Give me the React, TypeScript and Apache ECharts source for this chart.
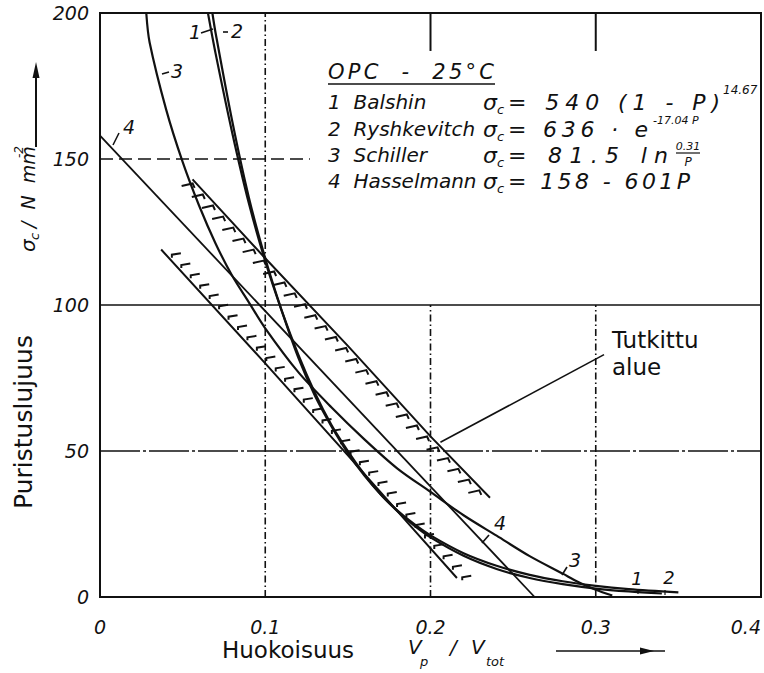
import React, { useEffect, useRef } from "react";
import * as echarts from "echarts";

// ---- data ----
const xTickLabels = ["0", "0.1", "0.2", "0.3", "0.4"];
const yTickLabels = ["0", "50", "100", "150", "200"];

// 1 Balshin
const balshin: number[][] = [
  [0.065, 201], [0.07, 186], [0.08, 159], [0.09, 135], [0.1, 115], [0.11, 98],
  [0.12, 83], [0.13, 70], [0.14, 59], [0.15, 50], [0.16, 42], [0.17, 35],
  [0.18, 29.4], [0.19, 24.5], [0.2, 20.4], [0.22, 14.1], [0.24, 9.6], [0.26, 6.5],
  [0.28, 4.4], [0.3, 2.9], [0.32, 1.9], [0.34, 1.2],
];
// 2 Ryshkevitch
const ryshkevitch: number[][] = [
  [0.068, 200], [0.07, 193], [0.08, 163], [0.09, 137], [0.1, 116], [0.11, 98],
  [0.12, 82], [0.13, 69], [0.14, 58.5], [0.15, 49.3], [0.16, 41.6], [0.17, 35.1],
  [0.18, 29.6], [0.19, 25], [0.2, 21.1], [0.22, 15], [0.24, 10.7], [0.26, 7.6],
  [0.28, 5.4], [0.3, 3.8], [0.32, 2.7], [0.35, 1.6],
];
// 3 Schiller
const schiller: number[][] = [
  [0.028, 200], [0.03, 190], [0.04, 167], [0.05, 149], [0.06, 134], [0.07, 121],
  [0.08, 110], [0.09, 101], [0.1, 92], [0.12, 77], [0.14, 65], [0.16, 54],
  [0.18, 44], [0.2, 36], [0.22, 28], [0.24, 21], [0.26, 14], [0.28, 8],
  [0.29, 5], [0.3, 2.5], [0.31, 0.5],
];
// 4 Hasselmann
const hasselmann: number[][] = [[0, 158], [0.263, 0]];
// Tutkittu alue (studied area) boundaries
const bandUpper: number[][] = [[0.056, 143], [0.1, 116], [0.15, 86], [0.2, 55], [0.236, 34]];
const bandLower: number[][] = [[0.037, 119], [0.1, 80], [0.15, 48.5], [0.19, 23], [0.216, 6.5]];
const leader: number[][] = [[0.206, 53], [0.305, 83]];

const INK = "#111";
const FONT = "DejaVu Sans";

let measureCtx: CanvasRenderingContext2D | null = null;
function measure(text: string, font: string): number {
  if (!measureCtx) measureCtx = document.createElement("canvas").getContext("2d");
  if (!measureCtx) return text.length * 10;
  measureCtx.font = font;
  return measureCtx.measureText(text).width;
}

function bandRender(pts: number[][], side: number, spacing: number) {
  return (_params: any, api: any) => {
    const px = pts.map((p) => api.coord(p));
    const children: any[] = [
      { type: "polyline", shape: { points: px }, style: { stroke: INK, lineWidth: 2, fill: null } },
    ];
    let acc = spacing * 0.5;
    for (let i = 0; i < px.length - 1; i++) {
      const [x0, y0] = px[i];
      const [x1, y1] = px[i + 1];
      const dx = x1 - x0, dy = y1 - y0;
      const L = Math.hypot(dx, dy);
      while (acc <= L) {
        const t = acc / L;
        const x = x0 + dx * t, y = y0 + dy * t;
        let pts2: number[][];
        if (side < 0) {
          pts2 = [[x - 16, y + 1], [x - 5, y - 1.5], [x - 3, y + 3]];
        } else {
          pts2 = [[x + 6, y + 3], [x + 6, y], [x + 15, y - 1.5]];
        }
        children.push({ type: "polyline", shape: { points: pts2 }, style: { stroke: INK, lineWidth: 2, fill: null } });
        acc += spacing;
      }
      acc -= L;
    }
    return { type: "group", children };
  };
}

function lineSeries(data: number[][], width: number, type: any = "solid", smooth: any = false) {
  return {
    type: "line",
    data,
    showSymbol: false,
    symbol: "none",
    smooth,
    silent: true,
    lineStyle: { color: INK, width, type },
    z: 3,
  };
}

function fontOf(size: number, italic = true) {
  return `${italic ? "italic " : ""}${size}px '${FONT}'`;
}

function txt(text: string, x: number, y: number, size: number, opts: any = {}) {
  return {
    type: "text",
    x,
    y,
    silent: true,
    style: {
      text,
      fill: INK,
      font: fontOf(size, opts.italic !== false),
      textAlign: opts.align || "left",
      textVerticalAlign: "middle",
    },
  };
}

// text spread with letter spacing so that it spans x0..x1
function spaced(text: string, x0: number, x1: number, y: number, size: number) {
  const font = fontOf(size);
  const chars = Array.from(text);
  const widths = chars.map((c) => measure(c, font));
  const natural = widths.reduce((a, b) => a + b, 0);
  const extra = chars.length > 1 ? Math.max(0, (x1 - x0 - natural) / (chars.length - 1)) : 0;
  const out: any[] = [];
  let x = x0;
  chars.forEach((c, i) => {
    if (c !== " ") out.push(txt(c, x, y, size));
    x += widths[i] + extra;
  });
  return out;
}

function seg(x1: number, y1: number, x2: number, y2: number, w = 1.6) {
  return { type: "line", silent: true, shape: { x1, y1, x2, y2 }, style: { stroke: INK, lineWidth: w } };
}

export default function App() {
  const ref = useRef<HTMLDivElement>(null);
  useEffect(() => {
    if (!ref.current) return;
    const chart = echarts.init(ref.current, undefined, { renderer: "svg" });
    const dashDot = [7, 3, 1.5, 3];
    const graphic: any[] = [
      // legend block
      ...spaced("OPC  -  25°C", 328, 494, 72, 21),
      seg(328, 84, 495, 84, 1.6),
      txt("1  Balshin", 328, 102, 20),
      txt("σ", 483, 102, 22),
      txt("c", 497, 109, 13),
      ...spaced("= 540 (1 - P)", 508, 720, 102, 22),
      txt("14.67", 723, 90, 12),
      txt("2  Ryshkevitch", 328, 129, 20),
      txt("σ", 483, 129, 22),
      txt("c", 497, 136, 13),
      ...spaced("= 636 · e", 508, 648, 129, 22),
      txt("-17.04 P", 653, 120, 11),
      txt("3  Schiller", 328, 155, 20),
      txt("σ", 483, 155, 22),
      txt("c", 497, 162, 13),
      ...spaced("= 81.5 ln", 508, 668, 155, 22),
      txt("0.31", 688, 146, 11, { align: "center" }),
      seg(676, 153, 700, 153, 1.2),
      txt("P", 688, 162, 12, { align: "center" }),
      txt("4  Hasselmann", 328, 181, 20),
      txt("σ", 483, 181, 22),
      txt("c", 497, 188, 13),
      ...spaced("= 158 - 601P", 508, 690, 181, 22),
      // curve labels
      txt("1", 195, 32, 19, { align: "center" }),
      seg(201, 33, 213, 29, 1.6),
      seg(223, 32, 228, 32, 1.6),
      txt("2", 237, 31, 19, { align: "center" }),
      seg(162, 74, 169, 72, 1.6),
      txt("3", 177, 71, 19, { align: "center" }),
      seg(113, 145, 119, 133, 1.6),
      txt("4", 129, 127, 19, { align: "center" }),
      seg(482, 543, 489, 535, 1.6),
      txt("4", 500, 523, 19, { align: "center" }),
      seg(562, 575, 567, 567, 1.6),
      txt("3", 575, 560, 19, { align: "center" }),
      txt("1", 637, 578, 18, { align: "center" }),
      seg(638, 589, 638, 594, 1.2),
      txt("2", 669, 577, 18, { align: "center" }),
      seg(665, 590, 665, 595, 1.2),
      // Tutkittu alue
      txt("Tutkittu", 612, 340, 23, { italic: false }),
      txt("alue", 612, 367, 23, { italic: false }),
      // y title
      {
        type: "text",
        x: 23,
        y: 422,
        rotation: Math.PI / 2,
        silent: true,
        style: { text: "Puristuslujuus", fill: INK, font: fontOf(25, false), textAlign: "center", textVerticalAlign: "middle" },
      },
      {
        type: "group",
        x: 28,
        y: 252,
        rotation: Math.PI / 2,
        children: [
          txt("σ", 0, 0, 20),
          txt("c", 12, 6, 13),
          txt("/  N  mm", 24, 0, 19),
          txt("-2", 94, -9, 12),
        ],
      },
      seg(36, 147, 36, 72, 2),
      { type: "polygon", silent: true, shape: { points: [[36, 62], [32.5, 78], [39.5, 78]] }, style: { fill: INK } },
      // x title
      txt("Huokoisuus", 222, 650, 23, { italic: false }),
      txt("V", 408, 647, 20),
      txt("p", 420, 661, 13),
      txt("/", 450, 647, 20),
      txt("V", 471, 647, 20),
      txt("tot", 486, 661, 13),
      seg(556, 651, 665, 651, 1.6),
      { type: "polygon", silent: true, shape: { points: [[654, 651], [640, 647.5], [640, 654.5]] }, style: { fill: INK } },
    ];

    chart.setOption({
      animation: false,
      backgroundColor: "#fff",
      grid: { left: 100, right: 3, top: 13, bottom: 76, show: true, borderColor: INK, borderWidth: 2, backgroundColor: "transparent" },
      xAxis: {
        type: "value",
        min: 0,
        max: 0.4,
        interval: 0.1,
        axisLine: { show: true, lineStyle: { color: INK, width: 2 } },
        axisTick: { show: false },
        splitLine: { show: false },
        axisLabel: {
          color: INK,
          fontStyle: "italic",
          fontFamily: FONT,
          fontSize: 19,
          margin: 20,
          alignMaxLabel: "right",
          formatter: (v: number) => xTickLabels[Math.round(v * 10)] ?? "",
        },
      },
      yAxis: {
        type: "value",
        min: 0,
        max: 200,
        interval: 50,
        axisLine: { show: true, lineStyle: { color: INK, width: 2 } },
        axisTick: { show: false },
        splitLine: { show: false },
        axisLabel: {
          color: INK,
          fontStyle: "italic",
          fontFamily: FONT,
          fontSize: 19,
          margin: 11,
          formatter: (v: number) => yTickLabels[Math.round(v / 50)] ?? "",
        },
      },
      graphic,
      series: [
        // grid lines
        lineSeries([[0.1, 0], [0.1, 200]], 1.6, dashDot),
        lineSeries([[0.2, 0], [0.2, 100]], 1.6, dashDot),
        lineSeries([[0.3, 0], [0.3, 100]], 1.6, dashDot),
        lineSeries([[0.2, 187], [0.2, 200]], 2),
        lineSeries([[0.3, 187], [0.3, 200]], 2),
        lineSeries([[0, 150], [0.127, 150]], 1.4, [13, 6]),
        lineSeries([[0, 100], [0.4, 100]], 1.5),
        lineSeries([[0, 50], [0.4, 50]], 1.5, [40, 3, 3, 3]),
        // curves
        { ...lineSeries(balshin, 2.2, "solid", 0.3), name: "1 Balshin" },
        { ...lineSeries(ryshkevitch, 2.2, "solid", 0.3), name: "2 Ryshkevitch" },
        { ...lineSeries(schiller, 2.2, "solid", 0.3), name: "3 Schiller" },
        { ...lineSeries(hasselmann, 1.8), name: "4 Hasselmann" },
        // studied area
        { type: "custom", name: "Tutkittu alue (yläraja)", data: [[0, 0]], renderItem: bandRender(bandUpper, -1, 15), silent: true, z: 3 },
        { type: "custom", name: "Tutkittu alue (alaraja)", data: [[0, 0]], renderItem: bandRender(bandLower, 1, 14), silent: true, z: 3 },
        lineSeries(leader, 1.6),
      ],
    });
    return () => chart.dispose();
  }, []);
  return <div ref={ref} style={{ width: 764, height: 673, position: "absolute", left: 0, top: 0, background: "#fff" }} />;
}
